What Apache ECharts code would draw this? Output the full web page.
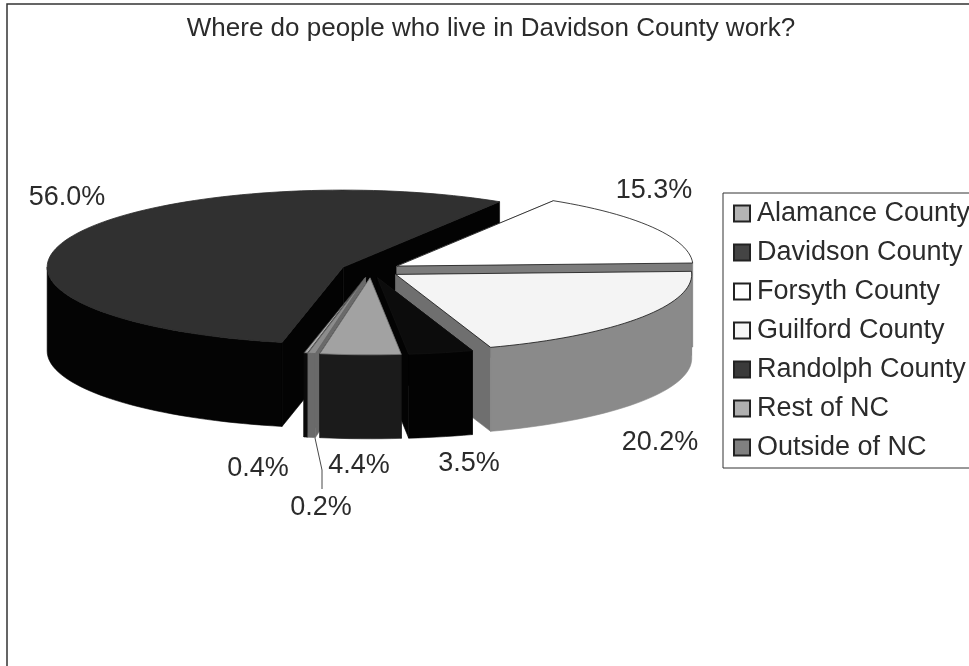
<!DOCTYPE html>
<html>
<head>
<meta charset="utf-8">
<style>html,body{margin:0;padding:0;background:#fff}#c{width:969px;height:666px}</style>
<script src="https://cdn.jsdelivr.net/npm/echarts@6/dist/echarts.min.js"></script>
</head>
<body>
<div id="c"></div>
<script>
var titleText = 'Where do people who live in Davidson County work?';
var categories = ['Alamance County','Davidson County','Forsyth County','Guilford County','Randolph County','Rest of NC','Outside of NC'];
var values = [0.2, 56.0, 15.3, 20.2, 3.5, 4.4, 0.4];

var FONT = '"Liberation Sans", Arial, sans-serif';
var INK = '#2b2b2b';
var legendColors = ['#b4b4b4','#444444','#ffffff','#f6f6f6','#3a3a3a','#b0b0b0','#808080'];
var topColors    = ['#a8a8a8','#303030','#ffffff','#f4f4f4','#0c0c0c','#a2a2a2','#8c8c8c'];
var cutColors    = ['#0a0a0a','#030303','#7c7c7c','#6f6f6f','#030303','#050505','#6a6a6a'];
var wallColors   = ['#0a0a0a','#040404','#888888','#8a8a8a','#030303','#1b1b1b','#6a6a6a'];
var strokeColors = ['#333','#2a2a2a','#111','#111','#111','#777','#666'];
var labelPos = [[321,508],[67,198],[654,191],[660,443],[469,464],[359,466],[258,469]];
var drawOrder = [1,2,3,4,0,6,5];
var leader = [[315,438],[322,470],[322,489]];
var frame = [[7,666],[7,4],[969,4]];

var G = {cx:371, cy:270, rx:296, ry:77, h:84, explode:30, startDeg:192.58, warpP:-2.26, warpQ:-0.9};

var total = values.reduce(function(a,b){return a+b;},0);
function warp(d){ return d + G.warpP + G.warpQ*Math.cos(d*Math.PI/180); }
var spans = [], acc = G.startDeg;
values.forEach(function(v,i){ var d = v/total*360; spans.push([warp(acc), warp(acc+d)]); acc += d; });

function pt(a, d, o){ var t = d*Math.PI/180; return [a[0]+G.rx*Math.sin(t), a[1]-G.ry*Math.cos(t)+(o||0)]; }
function arc(a, d1, d2, o){ var out=[], n=Math.max(2,Math.ceil(Math.abs(d2-d1)/2)); for(var i=0;i<=n;i++){ out.push(pt(a, d1+(d2-d1)*i/n, o)); } return out; }
function shape(p,fill,stroke,lw){ return {type:'polygon', shape:{points:p}, style:{fill:fill, stroke:stroke||fill, lineWidth:lw===undefined?0.6:lw}}; }

function renderSlice(i){
  var s = spans[i], mid = (s[0]+s[1])/2, t = mid*Math.PI/180;
  var a = [G.cx+G.explode*Math.sin(t), G.cy-G.explode*G.ry/G.rx*Math.cos(t)];
  var apexLow = [a[0], a[1]+G.h], kids = [];
  [s[0], s[1]].forEach(function(d){
    var p = pt(a,d), q = pt(a,d,G.h);
    kids.push(shape([a,p,q,apexLow], cutColors[i]));
  });
  [[90,270],[450,630]].forEach(function(win){
    var lo = Math.max(s[0],win[0]), hi = Math.min(s[1],win[1]);
    if (hi>lo) kids.push(shape(arc(a,lo,hi,0).concat(arc(a,hi,lo,G.h)), wallColors[i]));
  });
  kids.push(shape([a].concat(arc(a,s[0],s[1],0)), topColors[i], strokeColors[i], 0.8));
  kids.push({type:'text', z2:50, style:{x:labelPos[i][0], y:labelPos[i][1], text:values[i].toFixed(1)+'%', font:'27px '+FONT, fill:INK, align:'center', verticalAlign:'middle'}});
  return {type:'group', children:kids};
}

var series = drawOrder.map(function(i){
  return {
    name: categories[i], type:'custom', coordinateSystem:'none', silent:true,
    data:[[values[i]]], itemStyle:{color:legendColors[i], borderColor:'#222', borderWidth:1},
    renderItem:function(){ return renderSlice(i); }, animation:false
  };
});

var chart = echarts.init(document.getElementById('c'), null, {renderer:'canvas'});
chart.setOption({
  animation:false,
  backgroundColor:'#ffffff',
  title:{text:titleText, left:486, top:11, textAlign:'center', textStyle:{fontFamily:FONT, fontSize:26, fontWeight:'normal', color:INK}},
  legend:{
    orient:'vertical', left:723, top:193, data:categories, selectedMode:false,
    icon:'rect', itemWidth:16, itemHeight:16, itemGap:12,
    padding:[7,0,7,10], backgroundColor:'#fff', borderColor:'#333', borderWidth:1,
    textStyle:{fontFamily:FONT, fontSize:27, color:INK, padding:[0,0,0,2]}
  },
  graphic:[
    {type:'polyline', z:90, shape:{points:leader}, style:{stroke:'#333', lineWidth:0.9, fill:null}},
    {type:'polyline', z:90, shape:{points:frame}, style:{stroke:'#333', lineWidth:1.5, fill:null}}
  ],
  series:series
});
</script>
</body>
</html>
